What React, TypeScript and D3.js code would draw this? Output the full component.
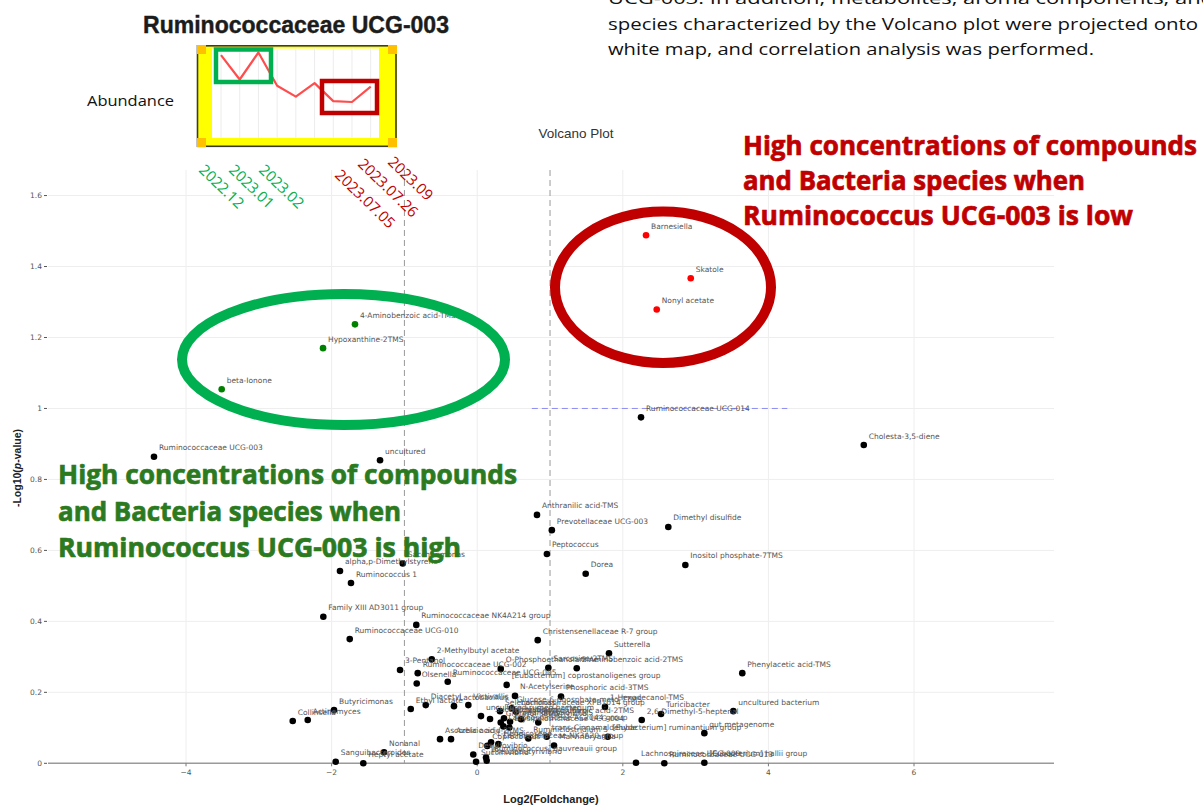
import React from 'react'
import * as d3 from 'd3'

// volcano plot features
const featureNames = [
  'Barnesiella', 'Skatole', 'Nonyl acetate', '4-Aminobenzoic acid-TMS', 'Hypoxanthine-2TMS', 'beta-Ionone',
  'Ruminococcaceae UCG-014', 'Cholesta-3,5-diene', 'Ruminococcaceae UCG-003', 'uncultured',
  'Anthranilic acid-TMS', 'Prevotellaceae UCG-003', 'Dimethyl disulfide', 'Peptococcus', 'Dorea',
  'Inositol phosphate-7TMS', 'Saccharimonas', 'alpha,p-Dimethylstyrene', 'Ruminococcus 1',
  'Family XIII AD3011 group', 'Ruminococcaceae NK4A214 group', 'Ruminococcaceae UCG-010',
  'Christensenellaceae R-7 group', 'Sutterella', 'Phenylacetic acid-TMS', '2-Methylbutyl acetate',
  '3-Pentanol', 'Ruminococcaceae UCG-002', 'Olsenella', 'Ruminococcaceae UCG-005', 'O-Phosphoethanolamine',
  '[Eubacterium] coprostanoligenes group', 'Sarcosine-2TMS', '2-Aminobenzoic acid-2TMS', 'Butyricimonas',
  'Ethyl lactate', 'Diacetyl', 'Collinsella', 'Actinomyces', 'Sanguibacteroides', 'Heptyl acetate',
  'Nonanal', '1-Hexadecanol-TMS', '[Eubacterium] ruminantium group', '2,6-Dimethyl-5-heptenal',
  'Turicibacter', 'uncultured bacterium', 'gut metagenome', 'Lachnospiraceae UCG-009',
  'Ruminococcaceae UCG-013', '[Eubacterium] hallii group', 'trans-Cinnamaldehyde', 'N-Acetylserine',
  'Phosphoric acid-3TMS', 'Ascorbic acid', 'Azelaic acid-2TMS', 'Lactobacillus', 'Victivallis',
  'uncultured rumen bacterium', 'Succiniclasticum', 'Selenomonas', 'Glycerol-3TMS', 'Benzyl alcohol-TMS',
  'Lachnospiraceae AC2044 group', 'Propanoic acid-2TMS', 'Erysipelotrichaceae UCG-004',
  'Glucose-6-phosphate-meto-7TMS', 'Lachnospiraceae XPB1014 group', 'N-Acetyl-glutamic acid-2TMS',
  'Butyrivibrio', 'Ruminiclostridium 5', 'Marvinbryantia', '1-Heneicosene', 'Coprococcus 1',
  'Lachnospiraceae NK3A20 group', 'Desulfovibrio', 'Succinivibrio', '[Ruminococcus] gauvreauii group',
  'Pseudobutyrivibrio'
]
const log2FC = [
  2.319, 2.933, 2.466, -1.679, -2.118, -3.51,
  2.25, 5.31, -4.44, -1.335,
  0.821, 1.025, 2.625, 0.957, 1.49,
  2.859, -1.023, -1.885, -1.734,
  -2.114, -0.837, -1.751,
  0.831, 1.81, 3.641, -0.625,
  -1.06, -0.817, -0.831, -0.405, 0.323,
  0.405, 0.977, 1.367, -1.967,
  -0.913, -0.707, -2.534, -2.328, -1.944, -1.565,
  -1.28, 1.755, 1.793, 2.26,
  2.525, 3.518, 3.12, 2.181,
  2.57, 3.12, 0.955, 0.519,
  1.151, -0.511, -0.36, -0.319, -0.122,
  0.052, 0.176, 0.313, 0.323, 0.368,
  0.359, 0.451, 0.441,
  0.474, 0.533, 0.602,
  0.839, 0.702, 1.055, 0.19, 0.139,
  0.29, -0.054, -0.016, 0.121,
  0.13
]
const negLog10P = [
  1.488, 1.367, 1.279, 1.237, 1.17, 1.054,
  0.975, 0.897, 0.864, 0.854,
  0.7, 0.657, 0.666, 0.59, 0.534,
  0.559, 0.563, 0.542, 0.508,
  0.413, 0.39, 0.35,
  0.347, 0.31, 0.254, 0.293,
  0.263, 0.254, 0.225, 0.23, 0.266,
  0.221, 0.269, 0.268, 0.15,
  0.153, 0.164, 0.119, 0.122, 0.0045, 0.0,
  0.031, 0.159, 0.075, 0.122,
  0.139, 0.147, 0.085, 0.0017,
  0.0, 0.0017, 0.075, 0.19,
  0.188, 0.068, 0.068, 0.161, 0.164,
  0.133, 0.125, 0.147, 0.115, 0.127,
  0.104, 0.117, 0.101,
  0.155, 0.145, 0.124,
  0.115, 0.07, 0.05, 0.059, 0.049,
  0.054, 0.025, 0.0045, 0.016,
  0.007
]

const xTicks = [-4, -2, 0, 2, 4, 6]
const yTicks = [0, 0.2, 0.4, 0.6, 0.8, 1, 1.2, 1.4, 1.6]
const fcCut = 1
const pCut = 1
const pLineSpan = [0.75, 4.26]

// inset abundance trend
const sampleDates = ['2022.12', '2023.01', '2023.02', '2023.04', '2023.05', '2023.06', '2023.07.05', '2023.07.26', '2023.09']
const abundance = [0.92, 0.65, 0.95, 0.58, 0.46, 0.61, 0.41, 0.4, 0.57]
const highIdx = [0, 1, 2]
const lowIdx = [6, 7, 8]

const greenNote = ['High concentrations of compounds', 'and Bacteria species when', 'Ruminococcus UCG-003 is high']
const redNote = ['High concentrations of compounds', 'and Bacteria species when', 'Ruminococcus UCG-003 is low']
const paragraph = [
  'UCG-003. In addition, metabolites, aroma components, and',
  'species characterized by the Volcano plot were projected onto',
  'white map, and correlation analysis was performed.'
]

const W = 1203
const H = 805
const plot = { left: 48, right: 1054, top: 170, bottom: 763.3 }

const GREEN = '#00b050'
const DARKRED = '#c00000'
const LABEL_FONT = '"DejaVu Sans", Verdana, sans-serif'

const App = () => {
  const x = d3.scaleLinear().domain([-5.896, 7.923]).range([plot.left, plot.right])
  const y = d3.scaleLinear().domain([0, 1.672]).range([plot.bottom, plot.top])

  const points = featureNames.map((name, i) => {
    const fc = log2FC[i]
    const p = negLog10P[i]
    let color = '#000'
    if (p > pCut && fc > fcCut) color = '#ff0000'
    else if (p > pCut && fc < -fcCut) color = 'green'
    return { name, cx: x(fc), cy: y(p), color }
  })

  // inset scales
  const ix = d3.scalePoint<number>().domain(d3.range(sampleDates.length)).range([221, 370.7])
  const iy = d3.scaleLinear().domain([0, 1]).range([138, 48])
  const trend = d3.line<number>().x((d, i) => ix(i) as number).y(d => iy(d))(abundance)

  // date label anchors (rotated text)
  const dateAnchors = [[198, 171], [228, 171], [258, 171], [0, 0], [0, 0], [0, 0], [334, 176], [357, 165], [387, 163]]

  return (
    <svg width={W} height={H} style={{ position: 'absolute', left: 0, top: 0, background: '#fff' }}>
      <rect width={W} height={H} fill='#fff' />

      {/* grid */}
      {xTicks.map(t => (
        <line key={'gx' + t} x1={x(t)} x2={x(t)} y1={plot.top} y2={plot.bottom} stroke='#eeeeee' />
      ))}
      {yTicks.filter(t => t > 0).map(t => (
        <line key={'gy' + t} x1={plot.left} x2={plot.right} y1={y(t)} y2={y(t)} stroke='#eeeeee' />
      ))}
      <line x1={plot.left} x2={plot.right} y1={y(0)} y2={y(0)} stroke='#9a9a9a' strokeWidth={1.4} />

      {/* thresholds */}
      {[-fcCut, fcCut].map(t => (
        <line key={'v' + t} x1={x(t)} x2={x(t)} y1={plot.top} y2={plot.bottom} stroke='#999' strokeDasharray='6,4' />
      ))}
      <line x1={x(pLineSpan[0])} x2={x(pLineSpan[1])} y1={y(pCut)} y2={y(pCut)} stroke='#8c8cf5' strokeDasharray='6,4' />

      {/* axes */}
      {yTicks.map(t => (
        <g key={'yt' + t} fontFamily={LABEL_FONT} fontSize={7.5} fill='#555'>
          <text x={42} y={y(t) + 2.7} textAnchor='end'>{String(+t.toFixed(1))}</text>
          <line x1={44} x2={47} y1={y(t)} y2={y(t)} stroke='#555' />
        </g>
      ))}
      {xTicks.map(t => (
        <g key={'xt' + t} fontFamily={LABEL_FONT} fontSize={7.5} fill='#555'>
          <line x1={x(t)} x2={x(t)} y1={plot.bottom} y2={plot.bottom + 3} stroke='#777' />
          <text x={x(t)} y={774.5} textAnchor='middle'>{t < 0 ? '\u2212' + Math.abs(t) : String(t)}</text>
        </g>
      ))}
      <text x={551} y={803} textAnchor='middle' fontFamily='"Liberation Sans", Arial, sans-serif' fontWeight='bold' fontSize={11} fill='#222'>Log2(Foldchange)</text>
      <text transform='translate(21,468) rotate(-90)' textAnchor='middle' fontFamily='"Liberation Sans", Arial, sans-serif' fontWeight='bold' fontSize={10.5} fill='#222'>
        -Log10(<tspan fontStyle='italic'>p</tspan>-value)
      </text>
      <text x={576} y={138} textAnchor='middle' fontFamily='"Liberation Sans", Arial, sans-serif' fontSize={13.5} fill='#333'>Volcano Plot</text>

      {/* points */}
      {points.map((d, i) => (
        <circle key={'p' + i} cx={d.cx} cy={d.cy} r={3.3} fill={d.color} />
      ))}
      {points.map((d, i) => (
        <text key={'l' + i} x={d.cx + 5} y={d.cy - 6.5} fontFamily={LABEL_FONT} fontSize={7.5} fill='#555'>{d.name}</text>
      ))}

      {/* highlight ellipses */}
      <ellipse cx={343.5} cy={359.5} rx={161.5} ry={65.5} fill='none' stroke={GREEN} strokeWidth={10} />
      <ellipse cx={663} cy={287.3} rx={108} ry={75.7} fill='none' stroke={DARKRED} strokeWidth={10} />

      {/* annotation text */}
      <g fontFamily='"Open Sans", "Noto Sans", sans-serif' fontWeight='bold' fontSize={27.5} strokeWidth={0.7}>
        {greenNote.map((s, i) => (
          <text key={'g' + i} x={58} y={484 + i * 36.5} fill='#2b7a1f' stroke='#2b7a1f' textLength={[459, 343, 403][i]} lengthAdjust='spacingAndGlyphs'>{s}</text>
        ))}
        {redNote.map((s, i) => (
          <text key={'r' + i} x={743} y={155 + i * 35} fill={DARKRED} stroke={DARKRED} textLength={[454, 342, 390][i]} lengthAdjust='spacingAndGlyphs'>{s}</text>
        ))}
      </g>
      <g fontFamily='"Open Sans", "Noto Sans", sans-serif' fontSize={17} fill='#111'>
        {paragraph.map((s, i) => (
          <text key={'t' + i} x={608} y={4 + i * 25.5} textLength={[606, 590, 486][i]} lengthAdjust='spacingAndGlyphs'>{s}</text>
        ))}
      </g>

      {/* inset */}
      <text x={143} y={33} fontFamily='"Liberation Sans", Arial, sans-serif' fontWeight='bold' fontSize={23} fill='#1c1c1c' stroke='#1c1c1c' strokeWidth={0.4} textLength={306} lengthAdjust='spacingAndGlyphs'>Ruminococcaceae UCG-003</text>
      <text x={87} y={106} fontFamily='"Open Sans", "Noto Sans", sans-serif' fontSize={15} fill='#111' textLength={87} lengthAdjust='spacingAndGlyphs'>Abundance</text>
      <rect x={197} y={45} width={200} height={102} fill='#ffff00' />
      <rect x={212} y={48.5} width={167} height={89.5} fill='#fff' />
      {sampleDates.map((_, i) => (
        <line key={'ig' + i} x1={ix(i)} x2={ix(i)} y1={48.5} y2={138} stroke='#ececec' />
      ))}
      <rect x={197.5} y={45.8} width={198.5} height={100.5} fill='none' stroke='#3a3a3a' strokeWidth={1.6} />
      {[[197, 45], [388, 45], [197, 138], [388, 138]].map(([cx, cy], i) => (
        <rect key={'c' + i} x={cx} y={cy} width={9} height={9} fill='#ffc000' />
      ))}
      <path d={trend || ''} fill='none' stroke='#ff4d4d' strokeWidth={2.2} strokeLinejoin='round' />
      <rect x={216} y={49.5} width={55} height={32.5} fill='none' stroke={GREEN} strokeWidth={4.5} />
      <rect x={322} y={81} width={55} height={32} fill='none' stroke={DARKRED} strokeWidth={4.5} />

      {[...highIdx, ...lowIdx].map(i => (
        <text key={'d' + i} transform={`translate(${dateAnchors[i][0]},${dateAnchors[i][1]}) rotate(44)`}
          fontFamily='"Open Sans", "Noto Sans", sans-serif' fontSize={15}
          fill={highIdx.includes(i) ? GREEN : DARKRED}>{sampleDates[i]}</text>
      ))}
    </svg>
  )
}

export default App
